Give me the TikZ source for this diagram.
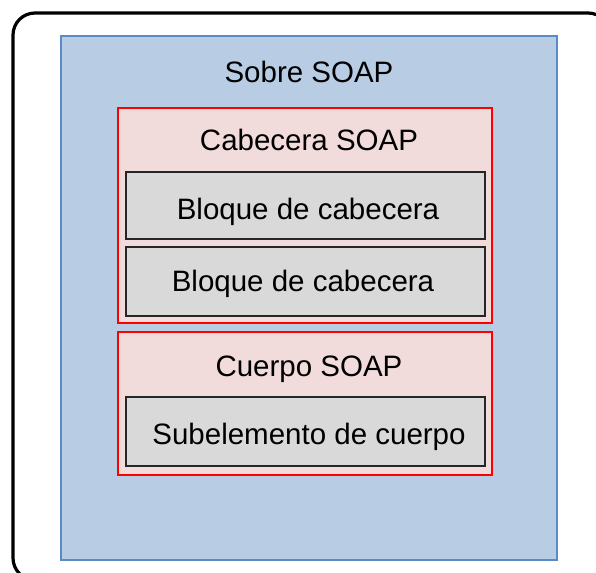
\documentclass[tikz,border=0pt]{standalone}
\usepackage{fontspec}
\setmainfont{Liberation Sans}
\definecolor{envfill}{HTML}{B8CCE4}
\definecolor{envdraw}{HTML}{5B8BC5}
\definecolor{hdrfill}{HTML}{F2DCDB}
\definecolor{hdrdraw}{HTML}{FF0000}
\definecolor{blkfill}{HTML}{D9D9D9}
\definecolor{blkdraw}{HTML}{262626}
\begin{document}
\begin{tikzpicture}[x=1pt,y=-1pt,
  lbl/.style={font=\fontsize{29.5}{33}\selectfont, inner sep=0pt, anchor=base},
  envbox/.style={draw=envdraw, fill=envfill, line width=2.2pt},
  partbox/.style={draw=hdrdraw, fill=hdrfill, line width=2.2pt},
  blkbox/.style={draw=blkdraw, fill=blkfill, line width=2.2pt}]
\path[use as bounding box, clip] (0,0) rectangle (596,572);
\draw[line width=3.2pt, rounded corners=22pt] (13,13) rectangle (610,580);
\draw[envbox] (61,36) rectangle (557,560);
\draw[partbox] (118,108) rectangle (492,323);
\draw[partbox] (118,332) rectangle (492,475);
\draw[blkbox] (126,172) rectangle (485,239);
\draw[blkbox] (126,247) rectangle (485,316);
\draw[blkbox] (126,397) rectangle (485,466);
\node[lbl] (sobre) at (309,83) {Sobre SOAP};
\node[lbl] (cab) at (309,150) {Cabecera SOAP};
\node[lbl] (b1) at (308,219) {Bloque de cabecera};
\node[lbl] (b2) at (303,291) {Bloque de cabecera};
\node[lbl] (cue) at (309,376) {Cuerpo SOAP};
\node[lbl] (sub) at (309,444) {Subelemento de cuerpo};
\end{tikzpicture}
\end{document}
